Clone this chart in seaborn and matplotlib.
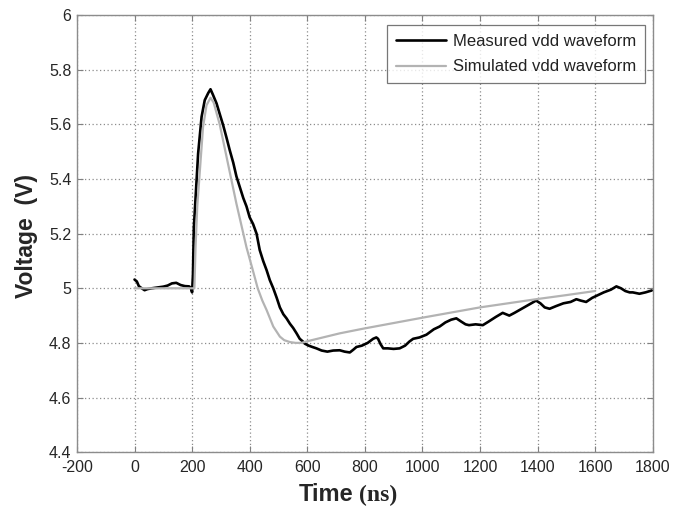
import matplotlib
matplotlib.use("Agg")
import matplotlib.pyplot as plt
import seaborn as sns

# measured vdd waveform (ns, V)
time_meas = [0, 8, 15, 25, 35, 45, 60, 80, 100, 115, 130, 145, 160, 175, 190, 196, 200,
             203, 206, 212, 221, 233, 244, 256, 264, 272, 285, 297, 308, 320, 331, 343,
             354, 366, 378, 389, 400, 412, 424, 435, 447, 459, 470, 482, 494, 505, 517,
             528, 540, 551, 563, 574, 585, 592, 605, 618, 632, 650, 670, 690, 713, 730,
             748, 760, 771, 790, 810, 829, 840, 846, 855, 864, 880, 900, 921, 940, 955,
             968, 990, 1014, 1040, 1060, 1080, 1100, 1118, 1135, 1150, 1162, 1185, 1210,
             1230, 1255, 1279, 1302, 1320, 1345, 1370, 1395, 1410, 1425, 1442, 1465, 1490,
             1515, 1535, 1550, 1569, 1590, 1610, 1630, 1655, 1674, 1690, 1705, 1720, 1731,
             1754, 1775, 1797]
volt_meas = [5.032, 5.025, 5.008, 5.0, 4.993, 4.997, 5.0, 5.003, 5.006, 5.01, 5.018, 5.02,
             5.012, 5.008, 5.007, 5.0, 4.985, 5.05, 5.22, 5.33, 5.494, 5.628, 5.689, 5.715,
             5.729, 5.71, 5.677, 5.635, 5.597, 5.55, 5.505, 5.46, 5.41, 5.37, 5.33, 5.30,
             5.26, 5.235, 5.20, 5.14, 5.10, 5.066, 5.03, 5.0, 4.965, 4.93, 4.905, 4.89,
             4.87, 4.855, 4.835, 4.815, 4.805, 4.797, 4.79, 4.785, 4.78, 4.772, 4.768,
             4.772, 4.773, 4.768, 4.765, 4.775, 4.785, 4.79, 4.80, 4.815, 4.82, 4.815,
             4.795, 4.78, 4.78, 4.778, 4.78, 4.79, 4.805, 4.815, 4.82, 4.83, 4.85, 4.86,
             4.875, 4.885, 4.89, 4.878, 4.868, 4.865, 4.868, 4.865, 4.878, 4.895, 4.91,
             4.90, 4.91, 4.925, 4.94, 4.955, 4.945, 4.93, 4.925, 4.935, 4.945, 4.95, 4.96,
             4.955, 4.95, 4.965, 4.975, 4.985, 4.995, 5.007, 5.0, 4.99, 4.985, 4.985,
             4.98, 4.985, 4.992]

# simulated vdd waveform (ns, V)
time_sim = [0, 100, 200, 208, 212, 218, 227, 238, 250, 264, 275, 296, 320, 354, 389, 410,
            428, 444, 459, 482, 505, 520, 540, 560, 580, 600, 713, 794, 1014, 1200, 1395,
            1500, 1600]
volt_sim = [5.0, 5.0, 5.0, 5.0, 5.15, 5.30, 5.43, 5.59, 5.67, 5.698, 5.68, 5.60, 5.48,
            5.31, 5.15, 5.07, 5.0, 4.955, 4.92, 4.86, 4.823, 4.81, 4.803, 4.80, 4.80,
            4.806, 4.835, 4.852, 4.895, 4.93, 4.96, 4.975, 4.99]

x_ticks = [-200, 0, 200, 400, 600, 800, 1000, 1200, 1400, 1600, 1800]
y_ticks = [4.4, 4.6, 4.8, 5.0, 5.2, 5.4, 5.6, 5.8, 6.0]
y_labels = ["4.4", "4.6", "4.8", "5", "5.2", "5.4", "5.6", "5.8", "6"]

sns.set_style("white")
plt.rcParams["font.family"] = ["Liberation Sans", "DejaVu Sans"]

fig = plt.figure(figsize=(6.87, 5.08), dpi=100)
ax = fig.add_axes([0.112, 0.110, 0.838, 0.860])

sns.lineplot(x=time_meas, y=volt_meas, ax=ax, color="black", lw=1.9,
             label="Measured vdd waveform", sort=False, estimator=None)
sns.lineplot(x=time_sim, y=volt_sim, ax=ax, color="#b3b3b3", lw=1.6,
             label="Simulated vdd waveform", sort=False, estimator=None)

ax.set_xlim(-200, 1800)
ax.set_ylim(4.4, 6.0)
ax.set_xticks(x_ticks)
ax.set_xticklabels([str(t) for t in x_ticks])
ax.set_yticks(y_ticks)
ax.set_yticklabels(y_labels)

for lab in ax.get_xticklabels() + ax.get_yticklabels():
    lab.set_fontsize(11.5)
    lab.set_color("#262626")

ax.tick_params(direction="in", length=4, width=0.8, color="#808080",
               top=True, right=True, bottom=True, left=True)
ax.tick_params(axis="x", pad=6)
ax.tick_params(axis="y", pad=4)
ax.grid(True, linestyle=(0, (1, 2)), color="#8c8c8c", lw=0.9)
for s in ax.spines.values():
    s.set_color("#8c8c8c")
    s.set_linewidth(1.0)

ax.set_xlabel("")
ax.set_ylabel("")
fig.text(0.038, 0.535, "Voltage  (V)", rotation=90, ha="center", va="center",
         fontsize=16.5, fontweight="bold", family="Liberation Sans")
fig.text(353 / 687, 1 - 501 / 508, "Time", ha="right", va="baseline",
         fontsize=17, fontweight="bold", family="Liberation Sans")
fig.text(359 / 687, 1 - 501 / 508, "(ns)", ha="left", va="baseline",
         fontsize=17, fontweight="bold", family="Liberation Serif")

leg = ax.legend(loc="upper right", bbox_to_anchor=(0.986, 0.977), borderaxespad=0,
                fontsize=12, frameon=True, fancybox=False, handlelength=3.0,
                handletextpad=0.45, labelspacing=0.65, borderpad=0.5)
leg.get_frame().set_edgecolor("#555555")
leg.get_frame().set_linewidth(0.9)
for t in leg.get_texts():
    t.set_color("#222222")

fig.savefig("out.png", dpi=100)
